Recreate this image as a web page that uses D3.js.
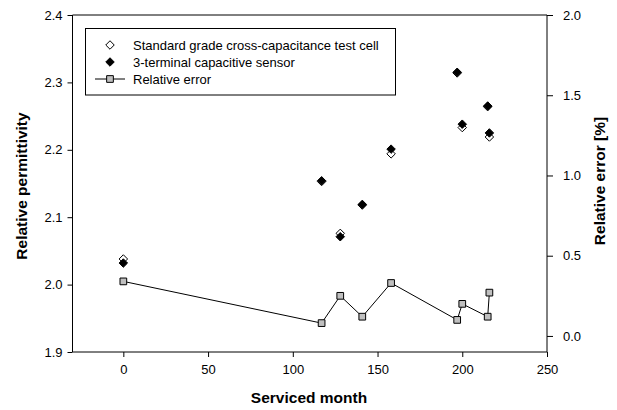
<!DOCTYPE html>
<html><head><meta charset="utf-8">
<script src="https://cdn.jsdelivr.net/npm/d3@7"></script>
<style>body{margin:0;background:#fff}svg{display:block}text{font-family:"Liberation Sans",Arial,sans-serif}</style>
</head><body><svg id="c" width="617" height="410"></svg>
<script>
const months = [0, 117, 128, 141, 158, 197, 200, 215, 216];
const standardCell = [2.038, 2.153, 2.076, 2.118, 2.194, 2.314, 2.233, 2.264, 2.219];
const sensor = [2.032, 2.154, 2.071, 2.119, 2.201, 2.315, 2.238, 2.265, 2.225];
const relError = [0.34, 0.08, 0.25, 0.12, 0.33, 0.10, 0.20, 0.12, 0.27];
const xTicks = [0, 50, 100, 150, 200, 250];
const yTicks = [1.9, 2.0, 2.1, 2.2, 2.3, 2.4];
const y2Ticks = [0.0, 0.5, 1.0, 1.5, 2.0];
const legendLabels = ["Standard grade cross-capacitance test cell", "3-terminal capacitive sensor", "Relative error"];

const svg = d3.select("#c");
const L = 72.5, R = 547, T = 15, B = 352;
const x = d3.scaleLinear().domain([-30, 250]).range([L, R]);
const y = d3.scaleLinear().domain([1.9, 2.4]).range([B, T]);
const y2 = d3.scaleLinear().domain([-0.1, 2.0]).range([B, T]);

svg.append("line").attr("x1", L).attr("x2", R).attr("y1", T).attr("y2", T).attr("stroke", "#000").attr("stroke-width", 1);

const fmt = d3.format(".1f");
const gx = svg.append("g").attr("transform", `translate(0,${B})`)
  .call(d3.axisBottom(x).tickValues(xTicks).tickSize(5).tickPadding(8).tickFormat(d3.format("d")));
const gy = svg.append("g").attr("transform", `translate(${L},0)`)
  .call(d3.axisLeft(y).tickValues(yTicks).tickSize(5).tickPadding(5).tickFormat(fmt));
const gy2 = svg.append("g").attr("transform", `translate(${R},0)`)
  .call(d3.axisRight(y2).tickValues(y2Ticks).tickSize(6).tickPadding(10).tickFormat(fmt));
[gx, gy, gy2].forEach(g => {
  g.select(".domain").attr("stroke", "#000").attr("stroke-width", 1);
  g.selectAll(".tick line").attr("stroke", "#000");
  g.selectAll("text").attr("fill", "#000").style("font-size", "13px").style("font-family", '"Liberation Sans",Arial,sans-serif');
});
gx.select(".domain").attr("d", `M${L},0H${R}`);
gy.select(".domain").attr("d", `M0,${T}V${B}`);
gy2.select(".domain").attr("d", `M0,${T}V${B}`);

svg.append("text").attr("x", 309).attr("y", 403).attr("text-anchor", "middle")
  .style("font-size", "15.5px").style("font-weight", "bold").text("Serviced month");
svg.append("text").attr("transform", `translate(26.5,186) rotate(-90)`).attr("text-anchor", "middle")
  .style("font-size", "15.5px").style("font-weight", "bold").text("Relative permittivity");
svg.append("text").attr("transform", `translate(605,181) rotate(-90)`).attr("text-anchor", "middle")
  .style("font-size", "15.5px").style("font-weight", "bold").text("Relative error [%]");

const diamond = d3.symbol().type(d3.symbolDiamond2).size(46);
const sq = d3.symbol().type(d3.symbolSquare).size(45);

const line = d3.line().x((d, i) => x(months[i])).y(d => y2(d));
svg.append("path").attr("d", line(relError)).attr("fill", "none").attr("stroke", "#000").attr("stroke-width", 1);
svg.selectAll(".sq").data(relError).enter().append("path")
  .attr("d", sq).attr("transform", (d, i) => `translate(${x(months[i])},${y2(d)})`)
  .attr("fill", "#bfbfbf").attr("stroke", "#000").attr("stroke-width", 1);

svg.selectAll(".od").data(standardCell).enter().append("path")
  .attr("d", diamond).attr("transform", (d, i) => `translate(${x(months[i])},${y(d)})`)
  .attr("fill", "#fff").attr("stroke", "#000").attr("stroke-width", 1);
svg.selectAll(".fd").data(sensor).enter().append("path")
  .attr("d", diamond).attr("transform", (d, i) => `translate(${x(months[i])},${y(d)})`)
  .attr("fill", "#000").attr("stroke", "#000").attr("stroke-width", 1);

svg.append("rect").attr("x", 85.5).attr("y", 28.5).attr("width", 310).attr("height", 66.5)
  .attr("fill", "#fff").attr("stroke", "#000").attr("stroke-width", 1);
const ly = [45, 62, 79];
svg.append("path").attr("d", diamond).attr("transform", `translate(110,${ly[0]})`).attr("fill", "#fff").attr("stroke", "#000");
svg.append("path").attr("d", diamond).attr("transform", `translate(110,${ly[1]})`).attr("fill", "#000").attr("stroke", "#000");
svg.append("line").attr("x1", 95).attr("x2", 125).attr("y1", ly[2]).attr("y2", ly[2]).attr("stroke", "#000");
svg.append("path").attr("d", sq).attr("transform", `translate(110,${ly[2]})`).attr("fill", "#bfbfbf").attr("stroke", "#000");
legendLabels.forEach((t, i) => {
  svg.append("text").attr("x", 133).attr("y", ly[i]).attr("dy", "0.35em").style("font-size", "13px").text(t);
});
</script></body></html>
